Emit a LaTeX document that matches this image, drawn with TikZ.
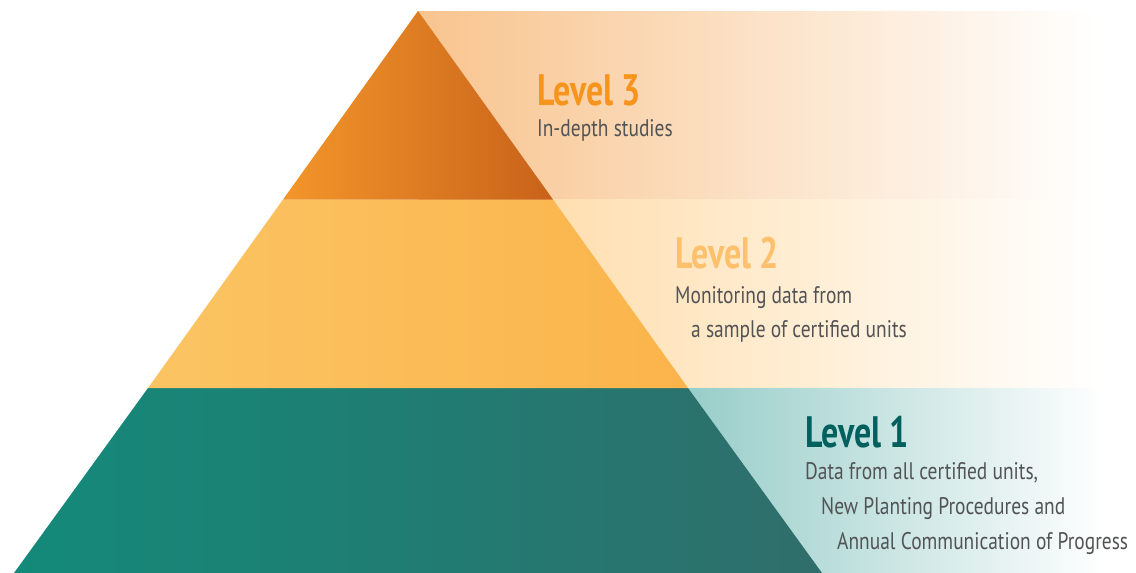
\documentclass[tikz,border=0pt]{standalone}
\usepackage{fontspec}
\setmainfont[FakeStretch=0.81]{PT Sans}
\newfontfamily\titlefont[FakeStretch=0.77]{PT Sans}
\usepackage{xcolor}
\usepackage{tikz}
\usetikzlibrary{positioning}

\definecolor{topleft}{HTML}{F3962A}
\definecolor{topright}{HTML}{C8621A}
\definecolor{midleft}{HTML}{FBC463}
\definecolor{midright}{HTML}{FBB44B}
\definecolor{lowleft}{HTML}{138A7A}
\definecolor{lowright}{HTML}{2F6E6B}
\definecolor{bandtop}{HTML}{F8C48E}
\definecolor{bandmid}{HTML}{FFDFB0}
\definecolor{bandlow}{HTML}{98CDC9}
\definecolor{titletop}{HTML}{F7941D}
\definecolor{titlemid}{HTML}{FDC06C}
\definecolor{titlelow}{HTML}{00605E}
\definecolor{textgrey}{HTML}{525355}

\begin{document}
\begin{tikzpicture}[x=1pt,y=-1pt,
  title/.style={anchor=base west,inner sep=0pt,font=\titlefont\fontsize{44}{44}\selectfont\bfseries},
  note/.style={anchor=base west,inner sep=0pt,text=textgrey,font=\fontsize{24}{24}\selectfont}]
\useasboundingbox (0,0) rectangle (1136,573);
% bands
\shade[left color=bandtop,right color=white] (418,11) rectangle (1095,199.5);
\shade[left color=bandmid,right color=white] (553,199.5) rectangle (1100,388);
\shade[left color=bandlow,right color=white] (688,388) rectangle (1105,573);
% pyramid
\shade[left color=lowleft,right color=lowright] (148,388) -- (688,388) -- (822,573) -- (14,573) -- cycle;
\shade[left color=midleft,right color=midright] (283,199.5) -- (553,199.5) -- (688,388) -- (148,388) -- cycle;
\shade[left color=topleft,right color=topright] (418,11) -- (553,199.5) -- (283,199.5) -- cycle;
% level 3
\node[title,text=titletop] (l3) at (537,105) {Level 3};
\node[note] (l3a) at (537,136) {In-depth studies};
% level 2
\node[title,text=titlemid] (l2) at (675,268) {Level 2};
\node[note] (l2a) at (675,303) {Monitoring data from};
\node[note] (l2b) at (691,337) {a sample of certified units};
% level 1
\node[title,text=titlelow] (l1) at (805,447) {Level 1};
\node[note] (l1a) at (805,479) {Data from all certified units,};
\node[note] (l1b) at (821,514) {New Planting Procedures and};
\node[note] (l1c) at (837,549) {Annual Communication of Progress};
\end{tikzpicture}
\end{document}
